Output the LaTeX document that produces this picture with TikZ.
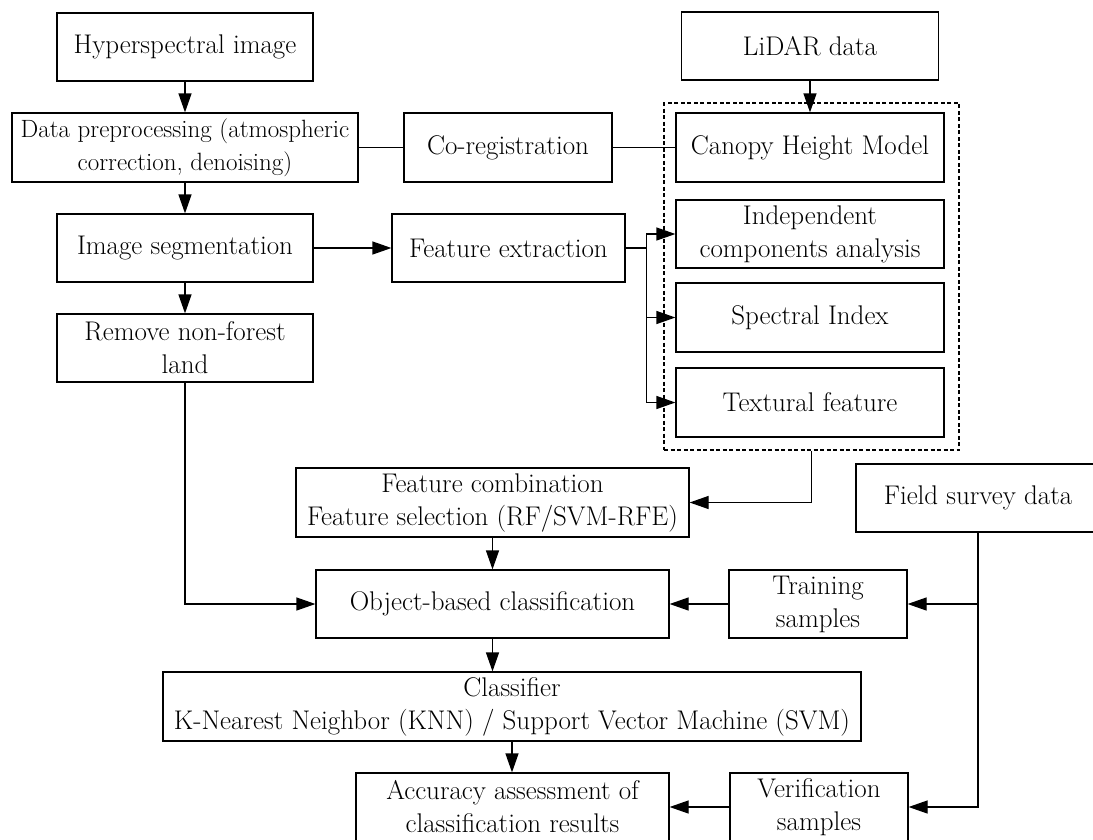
\documentclass[tikz,border=0pt]{standalone}
\usetikzlibrary{arrows.meta}
\begin{document}
\begin{tikzpicture}[x=1pt,y=-1pt,
  box/.style={draw, line width=1.2pt, align=center, inner sep=0pt, font=\fontsize{27}{33}\selectfont},
  dotbox/.style={draw, line width=2pt, dash pattern=on 4pt off 2.5pt, inner sep=0pt},
  arr/.style={line width=1.2pt, -{Triangle[length=19pt,width=13pt]}},
  ln/.style={line width=1.2pt}]
\useasboundingbox (0,0) rectangle (1093,839);
% nodes
\node[box, minimum width=256pt, minimum height=68pt] (hyp) at (185,47) {Hyperspectral image};
\node[box, minimum width=346pt, minimum height=69pt, font=\fontsize{25}{33}\selectfont] (pre) at (185,147.5) {Data preprocessing (atmospheric\\correction, denoising)};
\node[box, minimum width=208pt, minimum height=69pt] (coreg) at (508,147.5) {Co-registration};
\node[box, minimum width=257pt, minimum height=68pt] (lidar) at (810,46) {LiDAR data};
\node[dotbox, minimum width=295pt, minimum height=347pt] (grp) at (811.5,276.5) {};
\node[box, fill=white, minimum width=268pt, minimum height=69pt] (chm) at (810,147.5) {Canopy Height Model};
\node[box, minimum width=256pt, minimum height=68pt] (seg) at (185,248) {Image segmentation};
\node[box, minimum width=233pt, minimum height=68pt] (fext) at (508.5,248) {Feature extraction};
\node[box, minimum width=268pt, minimum height=68pt] (ica) at (810,234) {Independent\\components analysis};
\node[box, minimum width=268pt, minimum height=69pt] (spec) at (810,317.5) {Spectral Index};
\node[box, minimum width=268pt, minimum height=69pt] (tex) at (810,402.5) {Textural feature};
\node[box, minimum width=256pt, minimum height=68pt] (rem) at (185,348) {Remove non-forest\\land};
\node[box, minimum width=393pt, minimum height=69pt] (comb) at (492.5,502.5) {Feature combination\\Feature selection (RF/SVM-RFE)};
\node[box, minimum width=244pt, minimum height=68pt] (field) at (978,498) {Field survey data};
\node[box, minimum width=353pt, minimum height=68pt] (obj) at (492.5,604) {Object-based classification};
\node[box, minimum width=178pt, minimum height=68pt] (train) at (818,604) {Training\\samples};
\node[box, minimum width=698pt, minimum height=69pt] (cls) at (512,706.5) {Classifier\\K-Nearest Neighbor (KNN) / Support Vector Machine (SVM)};
\node[box, minimum width=313pt, minimum height=68pt] (acc) at (512.5,807) {Accuracy assessment of\\classification results};
\node[box, minimum width=178pt, minimum height=68pt] (ver) at (819,807) {Verification\\samples};
% connectors
\draw[arr] (hyp.south) -- (pre.north);
\draw[ln] (pre.east) -- (coreg.west);
\draw[ln] (coreg.east) -- (chm.west);
\draw[arr] (lidar.south) -- (chm.north);
\draw[arr] (pre.south) -- (seg.north);
\draw[arr] (seg.south) -- (rem.north);
\draw[arr] (seg.east) -- (fext.west);
\coordinate (br) at (646.5,248);
\draw[ln] (fext.east) -- (br);
\draw[arr] (br) |- (ica.west);
\draw[arr] (br) |- (spec.west);
\draw[arr] (br) |- (tex.west);
\draw[arr] (grp.south) |- (comb.east);
\draw[arr] (rem.south) |- (obj.west);
\draw[arr] (comb.south) -- (obj.north);
\draw[arr] (obj.south) -- (obj.south |- cls.north);
\draw[arr] (cls.south) -- (cls.south |- acc.north);
\draw[arr] (train.west) -- (obj.east);
\draw[arr] (ver.west) -- (acc.east);
\draw[arr] (field.south) |- (ver.east);
\draw[arr] (field.south |- train.east) -- (train.east);
\end{tikzpicture}
\end{document}
